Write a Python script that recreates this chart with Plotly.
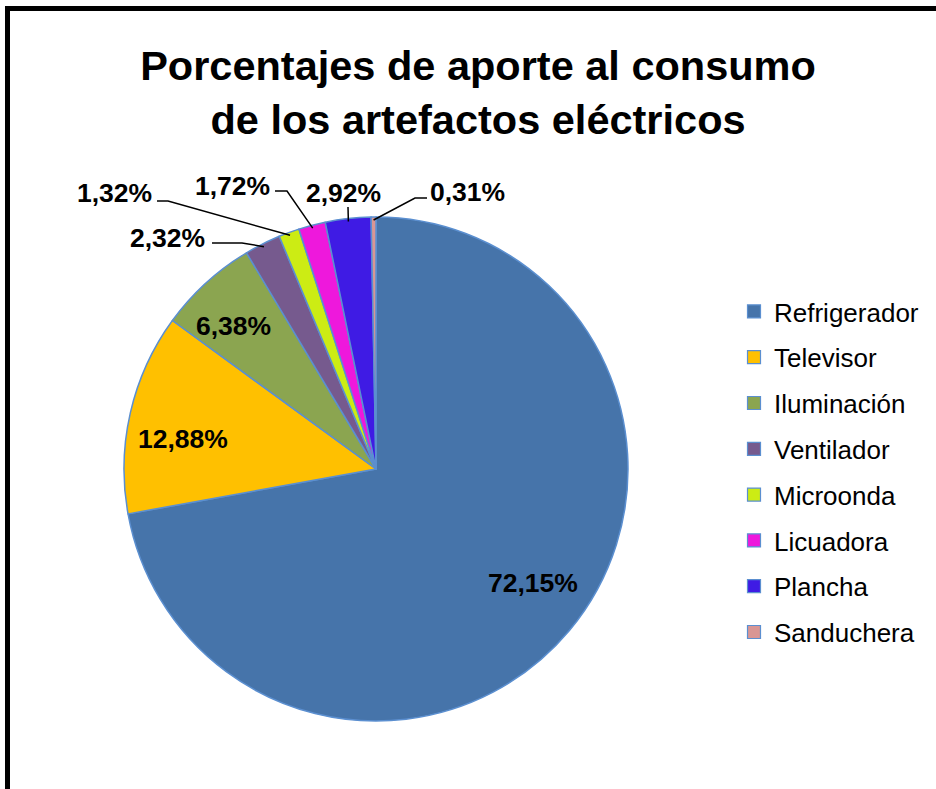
import math
import plotly.graph_objects as go

# ---- data ----
categories = ["Refrigerador", "Televisor", "Iluminación", "Ventilador",
              "Microonda", "Licuadora", "Plancha", "Sanduchera"]
values = [72.15, 12.88, 6.38, 2.32, 1.32, 1.72, 2.92, 0.31]
colors = ["#4674AA", "#FFC000", "#8BA550", "#765A8E",
          "#CCEC14", "#EE18DC", "#3F1BE4", "#D99694"]
title_lines = ["Porcentajes de aporte al consumo", "de los artefactos eléctricos"]

W, H = 936, 789
# pie geometry (pixels)
CX, CY, R = 376, 469, 252
OUTLINE = "#5B8FD0"
FONT = "Liberation Sans, Arial, sans-serif"

def px(x):
    return x / W

def py(y):
    return 1 - y / H

def fmt(v):
    return f"{v:.2f}".replace(".", ",") + "%"

# label layout: category -> (label centre px, leader elbow points px)
label_layout = {
    "Refrigerador": ((533, 583), None),
    "Televisor": ((183, 439), None),
    "Iluminación": ((233, 326), None),
    "Ventilador": ((167, 238), [(242, 243), (212, 243)]),
    "Microonda": ((114, 193), [(168, 201), (157, 201)]),
    "Licuadora": ((232, 186), [(287, 191), (275, 191)]),
    "Plancha": ((343, 193), [(348, 207)]),
    "Sanduchera": ((467, 192), [(415, 198), (427, 198)]),
}

fig = go.Figure()
fig.add_trace(go.Pie(
    labels=categories, values=values, sort=False, direction="clockwise",
    rotation=0, textinfo="none", hoverinfo="label+percent", showlegend=False,
    marker=dict(colors=colors, line=dict(color=OUTLINE, width=1.5)),
    domain=dict(x=[px(CX - R), px(CX + R)], y=[py(CY + R), py(CY - R)]),
))

# legend entries (one per category, so the entry spacing can be set)
for i, (cat, col) in enumerate(zip(categories, colors)):
    fig.add_trace(go.Scatter(
        x=[None], y=[None], mode="markers", name=cat, legendgroup=f"g{i}",
        marker=dict(symbol="square", size=13, color=col,
                    line=dict(color=OUTLINE, width=1.2)),
        hoverinfo="skip",
    ))

total = sum(values)
cum = 0.0
shapes = []
annotations = []
for cat, v in zip(categories, values):
    mid = (cum + v / 2) / total
    cum += v
    th = 2 * math.pi * mid
    (lx, ly), elbow = label_layout[cat]
    annotations.append(dict(
        x=px(lx), y=py(ly), xref="paper", yref="paper", text=fmt(v),
        showarrow=False, xanchor="center", yanchor="middle",
        font=dict(family=FONT, size=26.5, color="black", weight="bold"),
    ))
    if elbow:
        ax = CX + (R - 3) * math.sin(th)
        ay = CY - (R - 3) * math.cos(th)
        pts = [(ax, ay)] + elbow
        path = "M " + " L ".join(f"{px(x):.5f},{py(y):.5f}" for x, y in pts)
        shapes.append(dict(type="path", xref="paper", yref="paper", path=path,
                           line=dict(color="black", width=1.5)))

# outer chart border (left and top edges visible in the crop)
border_pts = [(7.5, H), (7.5, 8.5), (W, 8.5)]
shapes.append(dict(type="path", xref="paper", yref="paper",
                   path="M " + " L ".join(f"{px(x):.5f},{py(y):.5f}" for x, y in border_pts),
                   line=dict(color="black", width=5)))

fig.update_layout(
    width=W, height=H,
    margin=dict(l=0, r=0, t=0, b=0),
    paper_bgcolor="white", plot_bgcolor="white",
    xaxis=dict(visible=False, showline=False, zeroline=False),
    yaxis=dict(visible=False, showline=False, zeroline=False),
    title=dict(text="<br>".join(title_lines), x=478 / W, xanchor="center",
               y=py(80), yanchor="top", yref="container",
               font=dict(family=FONT, size=41.5, color="black", weight="bold")),
    legend=dict(x=px(734), y=py(288), xanchor="left", yanchor="top",
                font=dict(family=FONT, size=26, color="black"),
                bgcolor="rgba(0,0,0,0)", tracegroupgap=9, itemsizing="trace"),
    shapes=shapes, annotations=annotations,
)

fig.write_html(
    "out.html", config={"displayModeBar": False},
    post_script="document.documentElement.style.margin='0';"
                "document.body.style.margin='0';"
                "document.documentElement.style.overflow='hidden';"
                "document.body.style.overflow='hidden';",
)
